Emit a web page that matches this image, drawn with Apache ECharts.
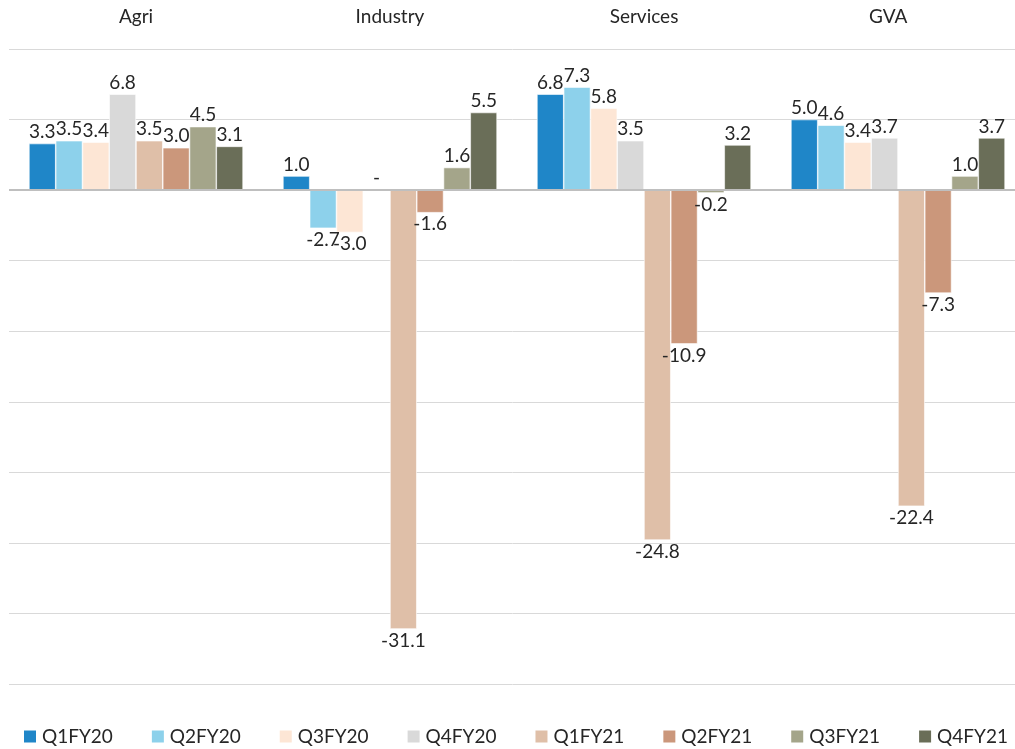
<!DOCTYPE html>
<html>
<head>
<meta charset="utf-8">
<script src="https://cdn.jsdelivr.net/npm/echarts@6/dist/echarts.min.js"></script>
<style>
  html, body { margin: 0; padding: 0; background: #fff; }
  #chart { width: 1015px; height: 749px; }
</style>
</head>
<body>
<div id="chart"></div>
<script>
// sectors along the top axis
const sectors = ['Agri', 'Industry', 'Services', 'GVA'];
const quarters = ['Q1FY20', 'Q2FY20', 'Q3FY20', 'Q4FY20', 'Q1FY21', 'Q2FY21', 'Q3FY21', 'Q4FY21'];
const colors = ['#1F86C8', '#8DD1EB', '#FDE6D5', '#D9D9D9', '#DFBFA8', '#CB977B', '#A4A58A', '#6A6E58'];

// growth values per quarter, in sector order
const q1fy20 = [3.3, 1.0, 6.8, 5.0];
const q2fy20 = [3.5, -2.7, 7.3, 4.6];
const q3fy20 = [3.4, -3.0, 5.8, 3.4];
const q4fy20 = [6.8, 0, 3.5, 3.7];
const q1fy21 = [3.5, -31.1, -24.8, -22.4];
const q2fy21 = [3.0, -1.6, -10.9, -7.3];
const q3fy21 = [4.5, 1.6, -0.2, 1.0];
const q4fy21 = [3.1, 5.5, 3.2, 3.7];

const values = [q1fy20, q2fy20, q3fy20, q4fy20, q1fy21, q2fy21, q3fy21, q4fy21];
const font = 'Lato, "Open Sans", sans-serif';

let series = quarters.map(function (q, i) {
    return {
        name: q,
        type: 'bar',
        barGap: '0%',
        barCategoryGap: '15.7%',
        itemStyle: { color: colors[i], borderColor: '#fff', borderWidth: 0.6 },
        data: values[i].map(function (v) {
            return {
                value: v,
                label: { position: v < 0 ? 'bottom' : 'top' }
            };
        }),
        label: {
            show: true,
            distance: 2,
            color: '#262626',
            fontSize: 19,
            fontFamily: font,
            formatter: function (p) {
                return p.value === 0 ? '-' : p.value.toFixed(1);
            }
        }
    };
});

// darker zero line
series[0].markLine = {
    silent: true,
    symbol: 'none',
    label: { show: false },
    lineStyle: { color: '#BFBFBF', width: 2, type: 'solid' },
    data: [{ yAxis: 0 }]
};

let option = {
    animation: false,
    color: colors,
    grid: { left: 9, right: -10, top: 49, bottom: 65, outerBoundsMode: 'none', containLabel: false },
    legend: {
        left: 22,
        top: 727,
        padding: 0,
        width: 1000,
        itemWidth: 14,
        itemHeight: 14,
        itemGap: 37,
        icon: 'rect',
        textStyle: { color: '#262626', fontSize: 19, fontFamily: font, width: 72 },
        data: quarters
    },
    xAxis: {
        type: 'category',
        position: 'top',
        data: sectors,
        axisLine: { show: false },
        axisTick: { show: false },
        axisLabel: {
            color: '#262626', fontSize: 19, fontFamily: font, margin: 23,
            formatter: function (v) {
                // excel put the GVA title a little left of the group centre
                return v === 'GVA' ? v + '    ' : v;
            }
        }
    },
    yAxis: {
        type: 'value',
        min: -35,
        max: 10,
        interval: 5,
        axisLabel: { show: false },
        axisLine: { show: false },
        axisTick: { show: false },
        splitLine: { lineStyle: { color: '#D9D9D9', width: 1 } }
    },
    series: series
};

let myChart = echarts.init(document.getElementById('chart'));
myChart.setOption(option);
</script>
</body>
</html>
